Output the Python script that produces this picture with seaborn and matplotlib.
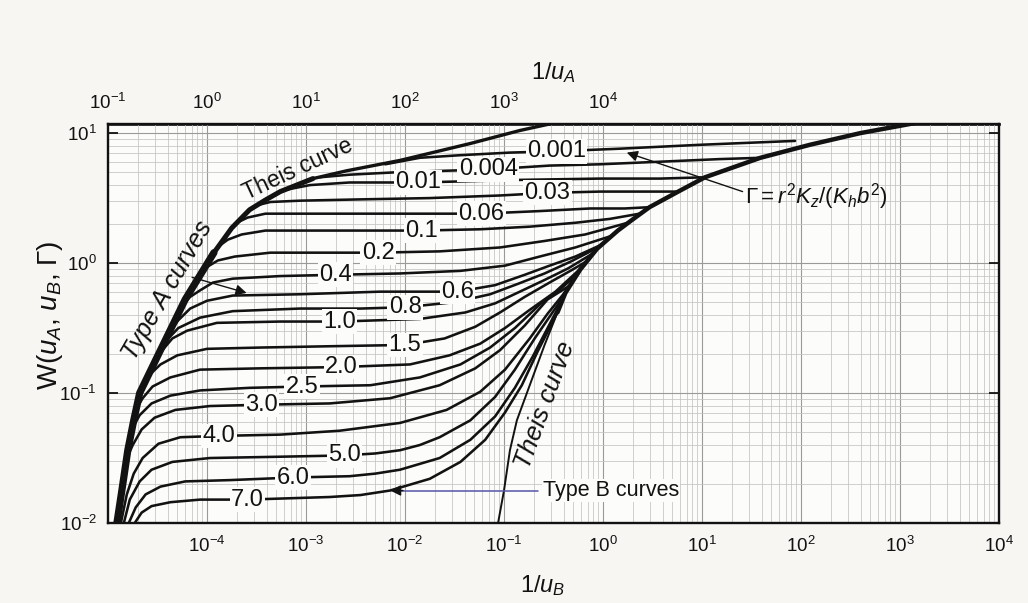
import numpy as np
import matplotlib
matplotlib.use("Agg")
import matplotlib.pyplot as plt
import seaborn as sns
from matplotlib.ticker import LogLocator, LogFormatterMathtext, NullFormatter, NullLocator

# ---------------- data (log10 of values) ----------------
# x = log10(1/u_B), y = log10(W)
theis_a_lx = [-4.91, -4.86, -4.80, -4.74, -4.68, -4.47, -4.22, -3.93, -3.75, -3.57, -3.41, -3.26, -2.93, -2.59, -2.05, -1.34, -0.84, -0.48]
theis_a_lw = [-2.00, -1.75, -1.44, -1.21, -1.00, -0.67, -0.28, 0.08, 0.27, 0.41, 0.485, 0.55, 0.65, 0.71, 0.79, 0.92, 1.02, 1.08]

theis_b_lx = [-1.06, -1.00, -0.94, -0.87, -0.74, -0.59, -0.46, -0.38, -0.23, -0.06, 0.15, 0.29, 0.47, 0.76, 1.03, 1.59, 2.09, 2.60, 3.17]
theis_b_lw = [-2.00, -1.75, -1.44, -1.21, -0.94, -0.63, -0.38, -0.23, -0.05, 0.11, 0.25, 0.33, 0.43, 0.55, 0.66, 0.81, 0.91, 1.00, 1.08]

g0001_lx = [-2.20, -1.85, -1.44, -0.94, -0.47, 0.17, 0.98, 1.94]
g0001_lw = [0.76, 0.81, 0.83, 0.85, 0.86, 0.88, 0.91, 0.94]
g0004_lx = [-2.86, -2.56, -2.05, -1.16, -0.54, -0.03, 0.58, 1.18, 1.59]
g0004_lw = [0.66, 0.68, 0.70, 0.72, 0.75, 0.76, 0.78, 0.80, 0.81]
g001_lx = [-3.23, -2.96, -2.56, -1.87, -1.34, -0.84, -0.03, 0.58, 1.03]
g001_lw = [0.56, 0.60, 0.62, 0.62, 0.63, 0.64, 0.65, 0.65, 0.66]
g003_lx = [-3.52, -3.36, -3.06, -2.45, -1.75, -1.04, -0.56, -0.03, 0.37, 0.76]
g003_lw = [0.44, 0.47, 0.48, 0.49, 0.50, 0.52, 0.54, 0.55, 0.55, 0.55]
g006_lx = [-3.70, -3.59, -3.41, -3.06, -2.05, -1.23, -0.64, -0.13, 0.22, 0.47]
g006_lw = [0.31, 0.35, 0.38, 0.38, 0.38, 0.38, 0.40, 0.42, 0.42, 0.43]
g01_lx = [-3.88, -3.79, -3.65, -3.41, -2.86, -1.83, -1.24, -0.74, -0.28, 0.07, 0.37]
g01_lw = [0.13, 0.18, 0.22, 0.25, 0.25, 0.25, 0.26, 0.28, 0.31, 0.34, 0.38]
g02_lx = [-4.08, -4.00, -3.89, -3.72, -3.36, -2.76, -2.27, -1.65, -1.04, -0.59, -0.18, 0.25]
g02_lw = [-0.10, -0.03, 0.02, 0.05, 0.08, 0.08, 0.08, 0.09, 0.12, 0.17, 0.22, 0.31]
g04_lx = [-4.26, -4.17, -4.07, -3.94, -3.74, -3.26, -2.70, -2.05, -1.44, -0.99, -0.64, -0.28, 0.09]
g04_lw = [-0.33, -0.26, -0.21, -0.15, -0.12, -0.10, -0.09, -0.08, -0.06, -0.02, 0.05, 0.12, 0.21]
g06_lx = [-4.37, -4.29, -4.17, -4.00, -3.74, -3.06, -2.25, -1.47, -1.09, -0.79, -0.54, -0.28, 0.01]
g06_lw = [-0.52, -0.44, -0.35, -0.29, -0.25, -0.24, -0.22, -0.22, -0.17, -0.09, -0.02, 0.05, 0.15]
g08_lx = [-4.47, -4.39, -4.29, -4.07, -3.74, -3.06, -2.45, -2.00, -1.49, -1.14, -0.86, -0.59, -0.33, -0.05]
g08_lw = [-0.67, -0.58, -0.50, -0.42, -0.37, -0.35, -0.35, -0.34, -0.30, -0.24, -0.16, -0.08, 0.01, 0.12]
g10_lx = [-4.53, -4.45, -4.35, -4.20, -3.90, -3.26, -2.66, -1.85, -1.39, -1.09, -0.84, -0.59, -0.35, -0.09]
g10_lw = [-0.76, -0.67, -0.58, -0.52, -0.46, -0.45, -0.45, -0.43, -0.38, -0.31, -0.22, -0.13, -0.04, 0.08]
g15_lx = [-4.65, -4.58, -4.47, -4.30, -4.00, -3.46, -2.76, -2.00, -1.60, -1.29, -1.04, -0.79, -0.54, -0.33, -0.15]
g15_lw = [-0.95, -0.86, -0.78, -0.71, -0.66, -0.65, -0.64, -0.63, -0.58, -0.49, -0.38, -0.26, -0.15, -0.06, 0.02]
g20_lx = [-4.72, -4.65, -4.55, -4.37, -4.07, -3.46, -2.64, -1.95, -1.55, -1.24, -0.99, -0.74, -0.48, -0.21]
g20_lw = [-1.13, -1.04, -0.95, -0.88, -0.82, -0.81, -0.80, -0.78, -0.71, -0.62, -0.50, -0.36, -0.22, -0.03]
g25_lx = [-4.76, -4.68, -4.56, -4.37, -4.07, -3.57, -3.04, -2.35, -1.85, -1.44, -1.14, -0.89, -0.64, -0.43, -0.25]
g25_lw = [-1.28, -1.17, -1.08, -1.02, -0.98, -0.96, -0.95, -0.94, -0.88, -0.78, -0.65, -0.50, -0.32, -0.20, -0.08]
g30_lx = [-4.82, -4.75, -4.66, -4.53, -4.32, -3.97, -3.45, -2.76, -2.15, -1.65, -1.29, -1.04, -0.79, -0.56, -0.33]
g30_lw = [-1.52, -1.40, -1.28, -1.19, -1.13, -1.10, -1.09, -1.08, -1.04, -0.94, -0.81, -0.67, -0.48, -0.28, -0.17]
g40_lx = [-4.87, -4.81, -4.74, -4.65, -4.49, -4.27, -3.88, -3.26, -2.66, -2.05, -1.58, -1.24, -0.99, -0.74, -0.56, -0.38]
g40_lw = [-2.00, -1.78, -1.62, -1.50, -1.39, -1.34, -1.33, -1.32, -1.29, -1.23, -1.13, -0.99, -0.82, -0.58, -0.39, -0.22]
g50_lx = [-4.84, -4.78, -4.68, -4.56, -4.35, -3.97, -3.26, -2.61, -2.30, -2.05, -1.85, -1.65, -1.34, -1.09, -0.89, -0.69, -0.42]
g50_lw = [-2.00, -1.82, -1.68, -1.59, -1.53, -1.50, -1.49, -1.48, -1.465, -1.44, -1.40, -1.34, -1.21, -1.03, -0.82, -0.58, -0.28]
g60_lx = [-4.79, -4.72, -4.62, -4.47, -4.22, -3.77, -3.13, -2.56, -2.30, -2.05, -1.65, -1.34, -1.09, -0.89, -0.71, -0.45]
g60_lw = [-2.00, -1.88, -1.78, -1.72, -1.68, -1.67, -1.65, -1.64, -1.62, -1.59, -1.50, -1.36, -1.18, -0.96, -0.72, -0.34]
g70_lx = [-4.73, -4.66, -4.56, -4.37, -4.07, -3.59, -2.76, -2.45, -2.15, -1.75, -1.44, -1.19, -0.99, -0.82, -0.66, -0.46]
g70_lw = [-2.00, -1.92, -1.87, -1.84, -1.82, -1.82, -1.80, -1.785, -1.75, -1.66, -1.53, -1.36, -1.15, -0.94, -0.68, -0.38]

gamma_labels = ["0.001", "0.004", "0.01", "0.03", "0.06", "0.1", "0.2", "0.4", "0.6", "0.8",
                "1.0", "1.5", "2.0", "2.5", "3.0", "4.0", "5.0", "6.0", "7.0"]

curves = [
    (g0001_lx, g0001_lw), (g0004_lx, g0004_lw), (g001_lx, g001_lw), (g003_lx, g003_lw),
    (g006_lx, g006_lw), (g01_lx, g01_lw), (g02_lx, g02_lw), (g04_lx, g04_lw),
    (g06_lx, g06_lw), (g08_lx, g08_lw), (g10_lx, g10_lw), (g15_lx, g15_lw),
    (g20_lx, g20_lw), (g25_lx, g25_lw), (g30_lx, g30_lw), (g40_lx, g40_lw),
    (g50_lx, g50_lw), (g60_lx, g60_lw), (g70_lx, g70_lw),
]

# ---------------- layout / style ----------------
label_pos_lx = [-0.47, -1.16, -1.87, -0.56, -1.23, -1.83, -2.27, -2.70, -1.47, -2.00,
                -2.66, -2.00, -2.64, -3.04, -3.45, -3.88, -2.61, -3.13, -3.59]

PAGE = "#f7f6f3"
PANEL = "#fcfcfa"
INK = "#121212"

sns.set_theme(style="white")
plt.rcParams["font.family"] = ["Liberation Sans", "DejaVu Sans"]
plt.rcParams["mathtext.fontset"] = "custom"
plt.rcParams["mathtext.rm"] = "Liberation Sans"
plt.rcParams["mathtext.it"] = "Liberation Sans:italic"
plt.rcParams["mathtext.bf"] = "Liberation Sans:bold"
plt.rcParams["text.color"] = INK
plt.rcParams["axes.labelcolor"] = INK
plt.rcParams["xtick.color"] = INK
plt.rcParams["ytick.color"] = INK

fig = plt.figure(figsize=(10.28, 6.03), dpi=100)
fig.patch.set_facecolor(PAGE)
ax = fig.add_axes([108 / 1028, 80 / 603, 891 / 1028, 399 / 603])
ax.set_facecolor(PANEL)
ax.set_xscale("log")
ax.set_yscale("log")
ax.set_xlim(1e-5, 1e4)
ax.set_ylim(1e-2, 10 ** 1.07)


def p10(v):
    return 10.0 ** np.asarray(v, dtype=float)


line_kw = dict(sort=False, estimator=None, color=INK, ax=ax, zorder=3,
               solid_joinstyle="round", solid_capstyle="round")

# Theis curves (drawn thicker where many curves coincide)
sns.lineplot(x=p10(theis_a_lx), y=p10(theis_a_lw), linewidth=2.4, **line_kw)
sns.lineplot(x=p10(theis_a_lx[:13]), y=p10(theis_a_lw[:13]), linewidth=3.6, **line_kw)
sns.lineplot(x=p10(theis_a_lx[:8]), y=p10(theis_a_lw[:8]), linewidth=5.2, **line_kw)
sns.lineplot(x=p10(theis_b_lx), y=p10(theis_b_lw), linewidth=1.4, **line_kw)
sns.lineplot(x=p10(theis_b_lx[6:]), y=p10(theis_b_lw[6:]), linewidth=3.2, **line_kw)

for (lx, lw), name, llx in zip(curves, gamma_labels, label_pos_lx):
    sns.lineplot(x=p10(lx), y=p10(lw), linewidth=1.85, **line_kw)
    ly = np.interp(llx, lx, lw)
    ax.text(10 ** llx, 10 ** ly, name, ha="center", va="center", fontsize=17,
            color=INK, zorder=6,
            bbox=dict(boxstyle="square,pad=0.06", fc=PANEL, ec="none"))

# ---------------- axes, ticks, grid ----------------
ax.set_xticks([1e-4, 1e-3, 1e-2, 1e-1, 1e0, 1e1, 1e2, 1e3, 1e4])
ax.xaxis.set_major_formatter(LogFormatterMathtext())
ax.xaxis.set_minor_locator(LogLocator(base=10, subs=np.arange(2, 10), numticks=40))
ax.xaxis.set_minor_formatter(NullFormatter())
ax.set_yticks([1e-2, 1e-1, 1e0, 1e1])
ax.yaxis.set_major_formatter(LogFormatterMathtext())
ax.yaxis.set_minor_locator(LogLocator(base=10, subs=np.arange(2, 10), numticks=40))
ax.yaxis.set_minor_formatter(NullFormatter())

ax.tick_params(axis="x", which="both", length=0, labelsize=13.5, pad=9)
ax.tick_params(axis="y", which="major", direction="in", length=7, width=1.3,
               left=True, right=True, labelsize=13.5, pad=8)
ax.tick_params(axis="y", which="minor", length=0)

ax.set_axisbelow(True)
ax.grid(True, which="major", color="#9a9a9a", linewidth=0.8)
ax.grid(True, which="minor", color="#c3c3c3", linewidth=0.55)
for s in ax.spines.values():
    s.set_visible(True)
    s.set_linewidth(1.7)
    s.set_color(INK)

sec = ax.secondary_xaxis("top", functions=(lambda v: v * 1e4, lambda v: v / 1e4))
sec.set_xticks([1e-1, 1e0, 1e1, 1e2, 1e3, 1e4])
sec.xaxis.set_major_formatter(LogFormatterMathtext())
sec.xaxis.set_minor_locator(NullLocator())
sec.tick_params(length=0, labelsize=13.5, pad=8)
sec.spines["top"].set_linewidth(2.0)
sec.set_xlabel(r"1/$u_A$", fontsize=17, labelpad=10)

ax.set_xlabel(r"1/$u_B$", fontsize=17)
ax.xaxis.set_label_coords(0.488, -0.125)
ax.set_ylabel(r"W($u_A$, $u_B$, Γ)", fontsize=20)
ax.yaxis.set_label_coords(-0.048, 0.52)

# ---------------- annotations ----------------
ax.text(10 ** -3.08, 10 ** 0.72, "Theis curve", fontsize=16.5, rotation=25,
        rotation_mode="anchor", ha="center", va="center", zorder=7)
ax.text(10 ** -4.40, 10 ** -0.21, "Type A curves", fontsize=18, rotation=60, style="italic",
        rotation_mode="anchor", ha="center", va="center", zorder=7)
ax.text(10 ** -0.58, 10 ** -1.09, "Theis curve", fontsize=18.5, rotation=70, style="italic",
        rotation_mode="anchor", ha="center", va="center", zorder=7)
ax.text(10 ** -0.61, 10 ** -1.75, "Type B curves", fontsize=15.5,
        ha="left", va="center", zorder=7,
        bbox=dict(boxstyle="square,pad=0.05", fc=PANEL, ec="none"))
ax.text(10 ** 1.43, 10 ** 0.51, r"$\Gamma = r^2K_z/(K_hb^2)$", fontsize=16,
        ha="left", va="center", zorder=7)

arrow = dict(arrowstyle="-|>", color=INK, lw=1.0, mutation_scale=16, shrinkA=0, shrinkB=0)
ax.annotate("", xy=(10 ** 0.24, 10 ** 0.85), xytext=(10 ** 1.41, 10 ** 0.55),
            arrowprops=arrow, zorder=7)
ax.annotate("", xy=(10 ** -3.60, 10 ** -0.23), xytext=(10 ** -4.15, 10 ** -0.11),
            arrowprops=arrow, zorder=7)
ax.plot([10 ** -0.66, 10 ** -2.10], [10 ** -1.75, 10 ** -1.75], color="#5656a8", lw=1.1, zorder=7)
ax.annotate("", xy=(10 ** -2.15, 10 ** -1.75), xytext=(10 ** -2.02, 10 ** -1.75),
            arrowprops=arrow, zorder=7)

fig.savefig("out.png", dpi=100, facecolor=PAGE)
